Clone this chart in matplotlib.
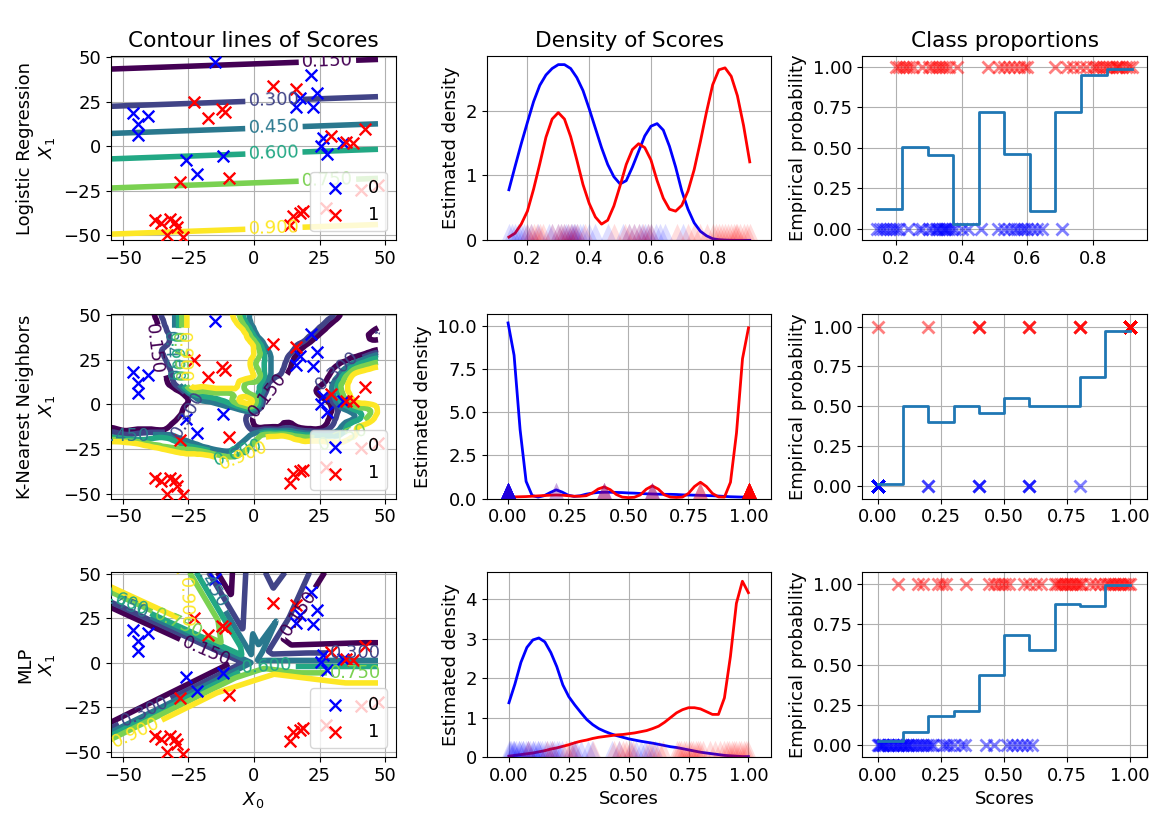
import numpy as np
import matplotlib.pyplot as plt
from matplotlib.path import Path

plt.rcParams['font.size'] = 13

# ---- test points drawn on the contour panels ----
X0_CLASS0 = [-46.3, -44.2, -44.2, -40.6, -14.8, -25.8, -21.8, -12.0, 17.5, 16.2,
             21.8, 24.2, 22.6, 26.5, 28.0, 25.5, 34.0]
X1_CLASS0 = [18.4, 12.2, 6.5, 16.6, 47.0, -8.0, -15.9, -5.5, 27.0, 22.0,
             39.7, 29.5, 21.8, 4.5, -4.3, 0.3, 2.0]
X0_CLASS1 = [-23.0, -17.4, -12.3, -11.0, -28.1, -9.4, 7.4, 16.2, 29.5, 35.2,
             37.8, 42.2, -37.6, -35.5, -32.0, -30.0, -33.2, -27.0, -29.5, 15.0,
             17.5, 18.8, 13.8, 27.6, 41.0, 47.3]
X1_CLASS1 = [24.8, 15.5, 20.7, 19.2, -20.0, -18.0, 33.6, 32.2, 5.9, 2.2,
             1.8, 9.6, -41.2, -43.0, -41.0, -42.5, -50.0, -51.0, -45.5, -39.0,
             -37.5, -36.6, -44.0, -34.8, -24.5, -21.8]

LEVELS = [0.15, 0.30, 0.45, 0.60, 0.75, 0.90]

# logistic regression: logit = intercept + w0*X0 + w1*X1
LR_INTERCEPT = 0.224
LR_W = (0.00225, -0.0425)
LR_LABEL_X = [28, 7.6, 7.6, 7.6, 28, 7.6]

KNN_K = 5
KNN_WINDOW = 5   # grid cells averaged when drawing the KNN surface
KNN_GAIN = 1.5   # sharpening of the averaged surface around 0.5

# ReLU MLP (no hidden bias): logit is piecewise linear between these directions
MLP_ANGLES = [-180, -144, -130, -95, -40, -18, 0, 15, 35, 50, 62, 70, 80, 92, 103, 112, 120, 138, 146, 180]
MLP_SLOPES = [-0.20, 0.0, 0.10, 0.21, 0.22, 0.06, 0.0, -0.04, -0.10, -0.10, -0.03, -0.008,
              -0.02, -0.012, -0.045, 0.0, 0.04, 0.065, 0.0, -0.20]

# ---- scores of the test points ----
LR_SCORES_0 = [0.14, 0.15, 0.16, 0.17, 0.18, 0.19, 0.20, 0.21, 0.235,
               0.27, 0.28, 0.30, 0.31, 0.32, 0.325, 0.33, 0.34, 0.345, 0.35, 0.355, 0.36,
               0.37, 0.38, 0.40, 0.42, 0.46, 0.51, 0.53, 0.545, 0.56, 0.57, 0.58, 0.59,
               0.60, 0.615, 0.63, 0.645, 0.705]
LR_SCORES_1 = [0.20, 0.21, 0.22, 0.23, 0.24, 0.25, 0.28, 0.30, 0.31, 0.32, 0.33, 0.34,
               0.35, 0.36, 0.385, 0.48, 0.515, 0.53, 0.545, 0.56, 0.575, 0.59, 0.60,
               0.685, 0.72, 0.74, 0.76, 0.78, 0.80, 0.81, 0.82, 0.83, 0.84, 0.85, 0.86,
               0.87, 0.875, 0.88, 0.89, 0.90, 0.91, 0.92]

KNN_LEVELS = [0.0, 0.2, 0.4, 0.6, 0.8, 1.0]
KNN_COUNTS_0 = [40, 2, 3, 3, 1, 0]
KNN_COUNTS_1 = [1, 1, 3, 3, 4, 40]

MLP_SCORES_0 = [0.0, 0.005, 0.01, 0.015, 0.02, 0.02, 0.03, 0.04, 0.04, 0.05, 0.06, 0.06,
                0.07, 0.08, 0.08, 0.09, 0.10, 0.10, 0.11, 0.12, 0.12, 0.13, 0.14, 0.15,
                0.16, 0.17, 0.18, 0.19, 0.20, 0.21, 0.22, 0.26, 0.27, 0.28, 0.30, 0.33,
                0.345, 0.43, 0.46, 0.51, 0.53, 0.55, 0.57, 0.59, 0.61]
MLP_SCORES_1 = [0.08, 0.16, 0.18, 0.24, 0.255, 0.27, 0.35, 0.44, 0.46, 0.475, 0.49,
                0.505, 0.52, 0.58, 0.60, 0.625, 0.645, 0.70, 0.71, 0.72, 0.73, 0.74,
                0.75, 0.76, 0.77, 0.78, 0.79, 0.80, 0.81, 0.84, 0.86, 0.88, 0.90, 0.91,
                0.92, 0.93, 0.94, 0.95, 0.96, 0.97, 0.98, 0.99, 1.0]

# ---- estimated densities of the scores ----
DENS_LR_X = [0.14, 0.16, 0.18, 0.20, 0.22, 0.24, 0.26, 0.28, 0.30, 0.32, 0.34, 0.36, 0.38,
             0.40, 0.42, 0.44, 0.46, 0.48, 0.50, 0.52, 0.54, 0.56, 0.58, 0.60, 0.62, 0.64,
             0.66, 0.68, 0.70, 0.72, 0.74, 0.76, 0.78, 0.80, 0.82, 0.84, 0.86, 0.88, 0.90,
             0.92]
DENS_LR_0 = [0.78, 1.14, 1.49, 1.82, 2.14, 2.39, 2.55, 2.65, 2.71, 2.71, 2.65, 2.51, 2.31,
             2.03, 1.73, 1.43, 1.17, 0.98, 0.87, 0.92, 1.13, 1.37, 1.61, 1.76, 1.80, 1.70,
             1.45, 1.13, 0.76, 0.48, 0.27, 0.14, 0.07, 0.025, 0.01, 0.004, 0.001, 0.0, 0.0,
             0.0]
DENS_LR_1 = [0.05, 0.11, 0.25, 0.45, 0.79, 1.18, 1.59, 1.87, 1.97, 1.87, 1.60, 1.24, 0.86,
             0.57, 0.36, 0.25, 0.31, 0.53, 0.84, 1.17, 1.40, 1.49, 1.43, 1.24, 0.92, 0.65,
             0.48, 0.45, 0.54, 0.76, 1.09, 1.52, 1.98, 2.40, 2.63, 2.66, 2.53, 2.23, 1.77,
             1.21]

DENS_X = [0.0, 0.025, 0.05, 0.075, 0.1, 0.125, 0.15, 0.175, 0.2, 0.225, 0.25, 0.275, 0.3,
          0.325, 0.35, 0.375, 0.4, 0.425, 0.45, 0.475, 0.5, 0.525, 0.55, 0.575, 0.6, 0.625,
          0.65, 0.675, 0.7, 0.725, 0.75, 0.775, 0.8, 0.825, 0.85, 0.875, 0.9, 0.925, 0.95,
          0.975, 1.0]
DENS_KNN_0 = [10.17, 8.3, 4.0, 1.0, 0.18, 0.09, 0.17, 0.35, 0.51, 0.38, 0.2, 0.13, 0.17,
              0.26, 0.32, 0.36, 0.37, 0.37, 0.36, 0.35, 0.33, 0.32, 0.30, 0.28, 0.27, 0.26,
              0.25, 0.25, 0.24, 0.22, 0.21, 0.20, 0.19, 0.18, 0.17, 0.15, 0.13, 0.11, 0.10,
              0.09, 0.09]
DENS_KNN_1 = [0.09, 0.10, 0.11, 0.12, 0.14, 0.16, 0.18, 0.20, 0.21, 0.20, 0.17, 0.14, 0.14,
              0.17, 0.32, 0.56, 0.68, 0.52, 0.24, 0.09, 0.06, 0.08, 0.22, 0.55, 0.74, 0.55,
              0.22, 0.09, 0.07, 0.09, 0.30, 0.70, 0.95, 0.70, 0.30, 0.10, 0.09, 0.95, 3.8,
              8.1, 9.89]
DENS_MLP_0 = [1.375, 1.85, 2.40, 2.78, 2.97, 3.02, 2.92, 2.65, 2.29, 1.83, 1.53, 1.32, 1.13,
              0.95, 0.82, 0.72, 0.65, 0.59, 0.54, 0.50, 0.46, 0.43, 0.40, 0.375, 0.35, 0.32,
              0.29, 0.26, 0.24, 0.21, 0.18, 0.15, 0.12, 0.10, 0.08, 0.06, 0.04, 0.03, 0.02,
              0.01, 0.01]
DENS_MLP_1 = [0.02, 0.04, 0.06, 0.08, 0.10, 0.13, 0.16, 0.20, 0.23, 0.27, 0.31, 0.36, 0.40,
              0.43, 0.47, 0.50, 0.52, 0.54, 0.56, 0.57, 0.59, 0.61, 0.64, 0.67, 0.72, 0.78,
              0.88, 1.00, 1.12, 1.20, 1.25, 1.25, 1.22, 1.15, 1.08, 1.08, 1.50, 2.55, 3.90,
              4.46, 4.17]

# ---- class proportions per score bin ----
LR_BIN_EDGES = [0.14, 0.218, 0.296, 0.374, 0.452, 0.53, 0.608, 0.686, 0.764, 0.842, 0.92]
LR_PROPS = [0.12, 0.505, 0.455, 0.03, 0.72, 0.46, 0.11, 0.72, 0.95, 0.985]
BIN_EDGES = [0.0, 0.1, 0.2, 0.3, 0.4, 0.5, 0.6, 0.7, 0.8, 0.9, 1.0]
KNN_PROPS = [0.015, 0.50, 0.40, 0.50, 0.46, 0.555, 0.50, 0.50, 0.685, 0.975]
MLP_PROPS = [0.025, 0.085, 0.18, 0.21, 0.435, 0.685, 0.59, 0.88, 0.865, 0.995]

MODEL_NAMES = ['Logistic Regression', 'K-Nearest Neighbors', 'MLP']


def sigmoid(z):
    return 1.0 / (1.0 + np.exp(-z))


def lr_scores(gx, gy):
    return sigmoid(LR_INTERCEPT + LR_W[0] * gx + LR_W[1] * gy)


def moving_average(z, n):
    k = np.ones(n) / n
    z = np.pad(z, n // 2, mode='edge')
    z = np.apply_along_axis(lambda r: np.convolve(r, k, mode='valid'), 0, z)
    return np.apply_along_axis(lambda r: np.convolve(r, k, mode='valid'), 1, z)


def knn_scores(gx, gy):
    px = np.array(X0_CLASS0 + X0_CLASS1)
    py = np.array(X1_CLASS0 + X1_CLASS1)
    lab = np.array([0] * len(X0_CLASS0) + [1] * len(X0_CLASS1))
    d = (gx.ravel()[:, None] - px) ** 2 + (gy.ravel()[:, None] - py) ** 2
    nn = np.argsort(d, axis=1)[:, :KNN_K]
    z = moving_average(lab[nn].mean(axis=1).reshape(gx.shape), KNN_WINDOW)
    return np.clip(0.5 + KNN_GAIN * (z - 0.5), 0, 1)


def mlp_scores(gx, gy):
    ang = np.radians(MLP_ANGLES)
    u = np.stack([np.cos(ang), np.sin(ang)], axis=1)
    h = np.array(MLP_SLOPES)
    # weight vector of each linear piece
    w = np.array([np.linalg.solve(u[i:i + 2], h[i:i + 2]) for i in range(len(ang) - 1)])
    theta = np.arctan2(gy, gx)
    idx = np.clip(np.searchsorted(ang, theta, side='right') - 1, 0, len(ang) - 2)
    logit = w[idx, 0] * gx + w[idx, 1] * gy
    return sigmoid(logit)


fine = np.meshgrid(np.linspace(-54.6, 47.3, 300), np.linspace(-52.8, 50.6, 300))
knn_grid = np.meshgrid(np.linspace(-54.6, 47.3, 100), np.linspace(-52.8, 50.6, 100))
fields = [(fine, lr_scores(*fine)), (knn_grid, knn_scores(*knn_grid)), (fine, mlp_scores(*fine))]

rug_marker = Path([(0, 1.0), (-0.45, 0), (0.45, 0), (0, 1.0)], closed=True)

scores = [(np.array(LR_SCORES_0), np.array(LR_SCORES_1)),
          (np.repeat(KNN_LEVELS, KNN_COUNTS_0), np.repeat(KNN_LEVELS, KNN_COUNTS_1)),
          (np.array(MLP_SCORES_0), np.array(MLP_SCORES_1))]
densities = [(DENS_LR_X, DENS_LR_0, DENS_LR_1), (DENS_X, DENS_KNN_0, DENS_KNN_1),
             (DENS_X, DENS_MLP_0, DENS_MLP_1)]
steps = [(LR_BIN_EDGES, LR_PROPS), (BIN_EDGES, KNN_PROPS), (BIN_EDGES, MLP_PROPS)]
dens_xlim = [(0.068, 0.99), (-0.089, 1.095), (-0.093, 1.096)]
prop_xlim = [(0.097, 0.966), (-0.061, 1.067), (-0.061, 1.067)]
prop_ylim = [(-0.071, 1.069), (-0.078, 1.078), (-0.073, 1.073)]

fig, axes = plt.subplots(3, 3, figsize=(11.67, 8.21), dpi=100)
fig.subplots_adjust(left=0.095, right=0.983, bottom=0.078, top=0.932, wspace=0.32, hspace=0.40)

for row in range(3):
    ax1, ax2, ax3 = axes[row]

    # contour lines of the scores
    (gx, gy), z = fields[row]
    cs = ax1.contour(gx, gy, z, levels=LEVELS, cmap='viridis', linewidths=4)
    if row == 0:
        spots = [(x, (np.log(l / (1 - l)) - LR_INTERCEPT - LR_W[0] * x) / LR_W[1])
                 for x, l in zip(LR_LABEL_X, LEVELS)]
        ax1.clabel(cs, inline=True, fontsize=13, fmt='%1.3f', manual=spots)
    else:
        ax1.clabel(cs, inline=True, fontsize=13, fmt='%1.3f')
    ax1.scatter(X0_CLASS0, X1_CLASS0, marker='x', s=70, linewidths=1.7, color='blue', label='0', zorder=3)
    ax1.scatter(X0_CLASS1, X1_CLASS1, marker='x', s=70, linewidths=1.7, color='red', label='1', zorder=3)
    ax1.set_xlim(-54.6, 54)
    ax1.set_ylim(-52.8, 50.6)
    ax1.legend(loc='lower right')
    ax1.grid(True)
    ax1.set_ylabel(MODEL_NAMES[row] + '\n$X_1$')

    # densities of the scores with a rug of the individual scores
    s0, s1 = scores[row]
    dx, d0, d1 = densities[row]
    ax2.plot(dx, d0, color='blue', lw=2)
    ax2.plot(dx, d1, color='red', lw=2)
    ax2.plot(s0, np.zeros_like(s0), linestyle='none', marker=rug_marker, ms=24,
             mew=0, color='blue', alpha=0.13)
    ax2.plot(s1, np.zeros_like(s1), linestyle='none', marker=rug_marker, ms=24,
             mew=0, color='red', alpha=0.13)
    ax2.set_xlim(*dens_xlim[row])
    ax2.set_ylim(0, 1.05 * max(max(d0), max(d1)))
    ax2.grid(True)
    ax2.set_ylabel('Estimated density')

    # empirical class proportions per bin of scores
    edges, props = steps[row]
    ax3.plot(s0, np.zeros_like(s0), 'x', color='blue', alpha=0.5, ms=8, mew=2)
    ax3.plot(s1, np.ones_like(s1), 'x', color='red', alpha=0.5, ms=8, mew=2)
    ax3.step(edges, props + [props[-1]], where='post', color='tab:blue', lw=2)
    ax3.set_xlim(*prop_xlim[row])
    ax3.set_ylim(*prop_ylim[row])
    ax3.grid(True)
    ax3.set_ylabel('Empirical probability')

axes[0, 0].set_title('Contour lines of Scores')
axes[0, 1].set_title('Density of Scores')
axes[0, 2].set_title('Class proportions')
axes[2, 0].set_xlabel('$X_0$')
axes[2, 1].set_xlabel('Scores')
axes[2, 2].set_xlabel('Scores')

fig.savefig('out.png', dpi=100)
